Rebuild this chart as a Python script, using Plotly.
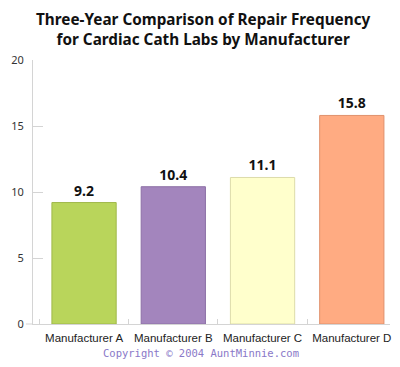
import plotly.graph_objects as go

categories = ["Manufacturer A", "Manufacturer B", "Manufacturer C", "Manufacturer D"]
values = [9.2, 10.4, 11.1, 15.8]
labels = ["9.2", "10.4", "11.1", "15.8"]
colors = ["#b9d55b", "#a385bd", "#ffffcc", "#ffab82"]
outlines = ["#9fb84a", "#8c70a6", "#dddcaa", "#e0916c"]
y_ticks = [0, 5, 10, 15, 20]
title_lines = ["Three-Year Comparison of Repair Frequency", "for Cardiac Cath Labs by Manufacturer"]

fig = go.Figure()
fig.add_trace(go.Bar(
    x=categories, y=values, text=labels, textposition="outside",
    textfont=dict(family="Noto Sans", size=14, color="#111111", weight="bold"),
    marker=dict(color=colors, line=dict(color=outlines, width=1)),
    width=0.72, cliponaxis=False,
))
fig.update_layout(
    width=400, height=367,
    margin=dict(l=25, r=18, t=52, b=51, autoexpand=False),
    paper_bgcolor="white", plot_bgcolor="white",
    showlegend=False,
    font=dict(family="Noto Sans", size=11, color="#333333"),
    bargap=0.28,
)
fig.update_yaxes(
    range=[0, 20], tickvals=y_ticks, showgrid=False, zeroline=False,
    showline=True, linecolor="#d4d4d4", linewidth=1,
    ticks="inside", ticklen=10, tickcolor="#d4d4d4", ticklabelstandoff=6,
    tickfont=dict(size=11, color="#333333"), automargin=False,
)
fig.update_xaxes(
    range=[-0.572, 3.428], showline=True, linecolor="#d4d4d4", linewidth=1,
    ticks="inside", tickson="boundaries", ticklen=5, tickcolor="#d4d4d4",
    tickangle=0, automargin=False, ticklabelstandoff=3,
    tickfont=dict(family="Liberation Sans", size=11.5, color="#222222"), showgrid=False,
)
fig.add_shape(type="line", xref="paper", yref="paper", x0=-0.02, x1=0, y0=0, y1=0,
              line=dict(color="#d4d4d4", width=1))
fig.add_annotation(
    text="<b>" + "<br>".join(title_lines) + "</b>",
    xref="paper", yref="paper", x=0.478, y=1.119, xanchor="center", yanchor="middle",
    showarrow=False, align="center",
    font=dict(family="Noto Sans", size=15.3, color="#111111"),
)
fig.add_annotation(
    text="Copyright © 2004 AuntMinnie.com", xref="paper", yref="paper",
    x=0.47, y=-0.08, xanchor="center", yanchor="top", showarrow=False,
    font=dict(family="DejaVu Sans Mono", size=10.5, color="#8a78c8"),
)
fig.write_html("out.html")
